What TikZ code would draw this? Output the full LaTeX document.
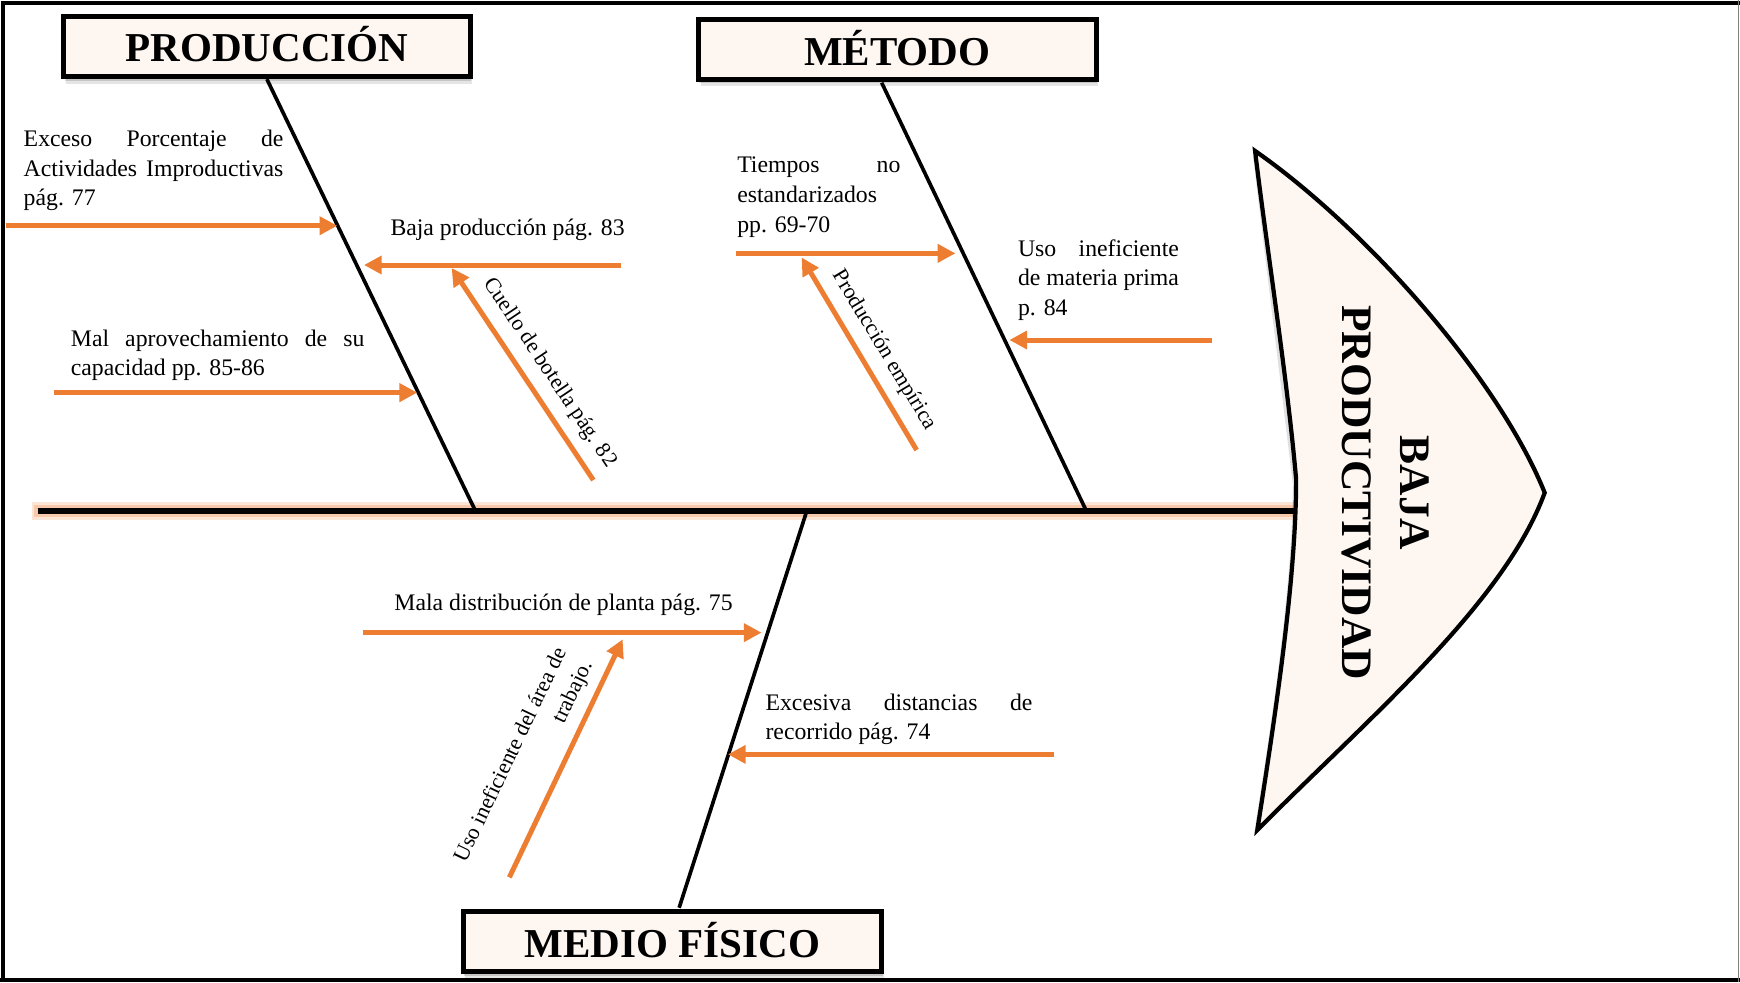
\documentclass[tikz,border=0pt]{standalone}
\usepackage{fontspec}
\setmainfont{Liberation Serif}
\usetikzlibrary{arrows.meta,shadows}
\definecolor{org}{RGB}{237,125,49}
\definecolor{cream}{RGB}{253,246,241}
\begin{document}
\begin{tikzpicture}[x=0.5pt,y=-0.5pt,
  catbox/.style={draw=black, line width=2.25pt, fill=cream,
    font=\fontsize{18.5pt}{22pt}\selectfont\bfseries, text height=14pt, text depth=0pt, inner sep=0pt,
    general shadow={fill=black, opacity=0.10, shadow xshift=1pt, shadow yshift=-3.2pt},
    general shadow={fill=black, opacity=0.14, shadow xshift=0.5pt, shadow yshift=-1.8pt}},
  bone/.style={line width=1.65pt, draw=black},
  arr/.style={draw=org, line width=2.25pt, -{Triangle[length=8pt,width=8pt]}},
  lbl/.style={font=\fontsize{10.7pt}{13.4pt}\selectfont, inner sep=0pt},
  rlbl/.style={font=\fontsize{9.9pt}{13pt}\selectfont, inner sep=0pt}
]
\useasboundingbox (0,0) rectangle (1568,885);
% frame
\draw[line width=1.8pt] (2.7,885) -- (2.7,2.7) -- (1568,2.7);
\draw[line width=1.8pt] (0,883.2) -- (1568,883.2);
\draw[gray, line width=0.6pt] (1566.8,0) -- (1566.8,885);

% spine
\coordinate (sl) at (34,460.5);
\coordinate (sr) at (1172,460.5);
\draw[org!20, line width=8.5pt] (29,460.5) -- (sr);
\draw[org!42, line width=5.8pt] (31,460.5) -- (sr);
\draw[black, line width=2.55pt] (sl) -- (sr);

% head (shadow, then shape)
\fill[black, opacity=0.12] (1129,140) -- (1165,436)
  .. controls (1165,524) and (1147,644) .. (1130,752)
  .. controls (1227,654) and (1352,549) .. (1390,448)
  .. controls (1348,344) and (1228,209) .. cycle;
\filldraw[draw=black, line width=1.9pt, fill=cream, line join=miter]
  (1131,136) .. controls (1141,220) and (1160,340) .. (1168,432)
  .. controls (1168,520) and (1150,640) .. (1133,748)
  .. controls (1230,650) and (1355,545) .. (1392,444)
  .. controls (1350,340) and (1230,205) .. cycle;
\node[font=\fontsize{19.6pt}{26.5pt}\selectfont\bfseries, rotate=-90, align=center, inner sep=0pt] (head) at (1248.5,444) {BAJA\\PRODUCTIVIDAD};

% category boxes
\node[catbox, minimum width=183.25pt, minimum height=27.25pt] (prod) at (240.5,41.8) {PRODUCCIÓN};
\node[catbox, minimum width=179.25pt, minimum height=26.75pt] (met) at (808.5,44.6) {MÉTODO};
\node[catbox, minimum width=188.75pt, minimum height=27.25pt] (medio) at (606,848.5) {MEDIO FÍSICO};

% bones
\coordinate (pj) at (428.5,460.5);
\coordinate (mt) at (794.5,74.5);
\coordinate (mj) at (979,460.5);
\coordinate (db) at (612,818);
\coordinate (dj) at (727,460.5);
\draw[bone] (prod.south) -- (pj);
\draw[bone] (mt) -- (mj);
\draw[bone] (db) -- (dj);

% arrows
\coordinate (a1s) at (5,203.4);      \coordinate (a1e) at (304,203.4);
\coordinate (a2s) at (559.6,238.8);  \coordinate (a2e) at (328,238.8);
\coordinate (a3s) at (48.3,353.8);   \coordinate (a3e) at (376,353.8);
\coordinate (a4s) at (534.7,432.6);  \coordinate (a4e) at (407,241.5);
\coordinate (a5s) at (663.3,228.3);  \coordinate (a5e) at (861,228.3);
\coordinate (a6s) at (826,405.5);    \coordinate (a6e) at (722.4,232);
\coordinate (a7s) at (1092,306.4);   \coordinate (a7e) at (909.6,306.4);
\coordinate (a8s) at (327,570.1);    \coordinate (a8e) at (686.3,570.1);
\coordinate (a9s) at (459,790.6);    \coordinate (a9e) at (561.1,576.1);
\coordinate (a10s) at (950,679.8);   \coordinate (a10e) at (656,679.8);
\foreach \i in {1,...,10} {\draw[arr] (a\i s) -- (a\i e);}

% labels
\node[lbl, anchor=base west] (t1) at (21,132) {\vtop{\hbox to 117pt{Exceso\hfill Porcentaje\hfill de}\hbox to 117pt{Actividades\hfill Improductivas}\hbox{pág. 77}}};
\node[lbl, anchor=base west] (t2) at (351.5,211.8) {Baja producción pág. 83};
\node[lbl, anchor=base west] (t3) at (63.5,312) {\vtop{\hbox to 132.25pt{Mal\hfill aprovechamiento\hfill de\hfill su}\hbox{capacidad pp. 85-86}}};
\node[lbl, anchor=base west] (t4) at (664,155.6) {\vtop{\hbox to 73.5pt{Tiempos\hfill no}\hbox{estandarizados}\hbox{pp. 69-70}}};
\node[lbl, anchor=base west] (t5) at (917,230.7) {\vtop{\hbox to 72.5pt{Uso\hfill ineficiente}\hbox{de materia prima}\hbox{p. 84}}};
\node[lbl, anchor=base west] (t6) at (355,550) {Mala distribución de planta pág. 75};
\node[lbl, anchor=base west] (t7) at (689.5,640) {\vtop{\hbox to 120.25pt{Excesiva\hfill distancias\hfill de}\hbox{recorrido pág. 74}}};

\node[rlbl, rotate=-56.2] (t8) at (495.4,336.1) {Cuello de botella pág. 82};
\node[rlbl, rotate=-59.0] (t9) at (796.4,315.4) {Producción empírica};
\node[rlbl, rotate=64.5, align=right] (t10) at (472.4,686.2) {Uso ineficiente del área de\\trabajo.};
\end{tikzpicture}
\end{document}
